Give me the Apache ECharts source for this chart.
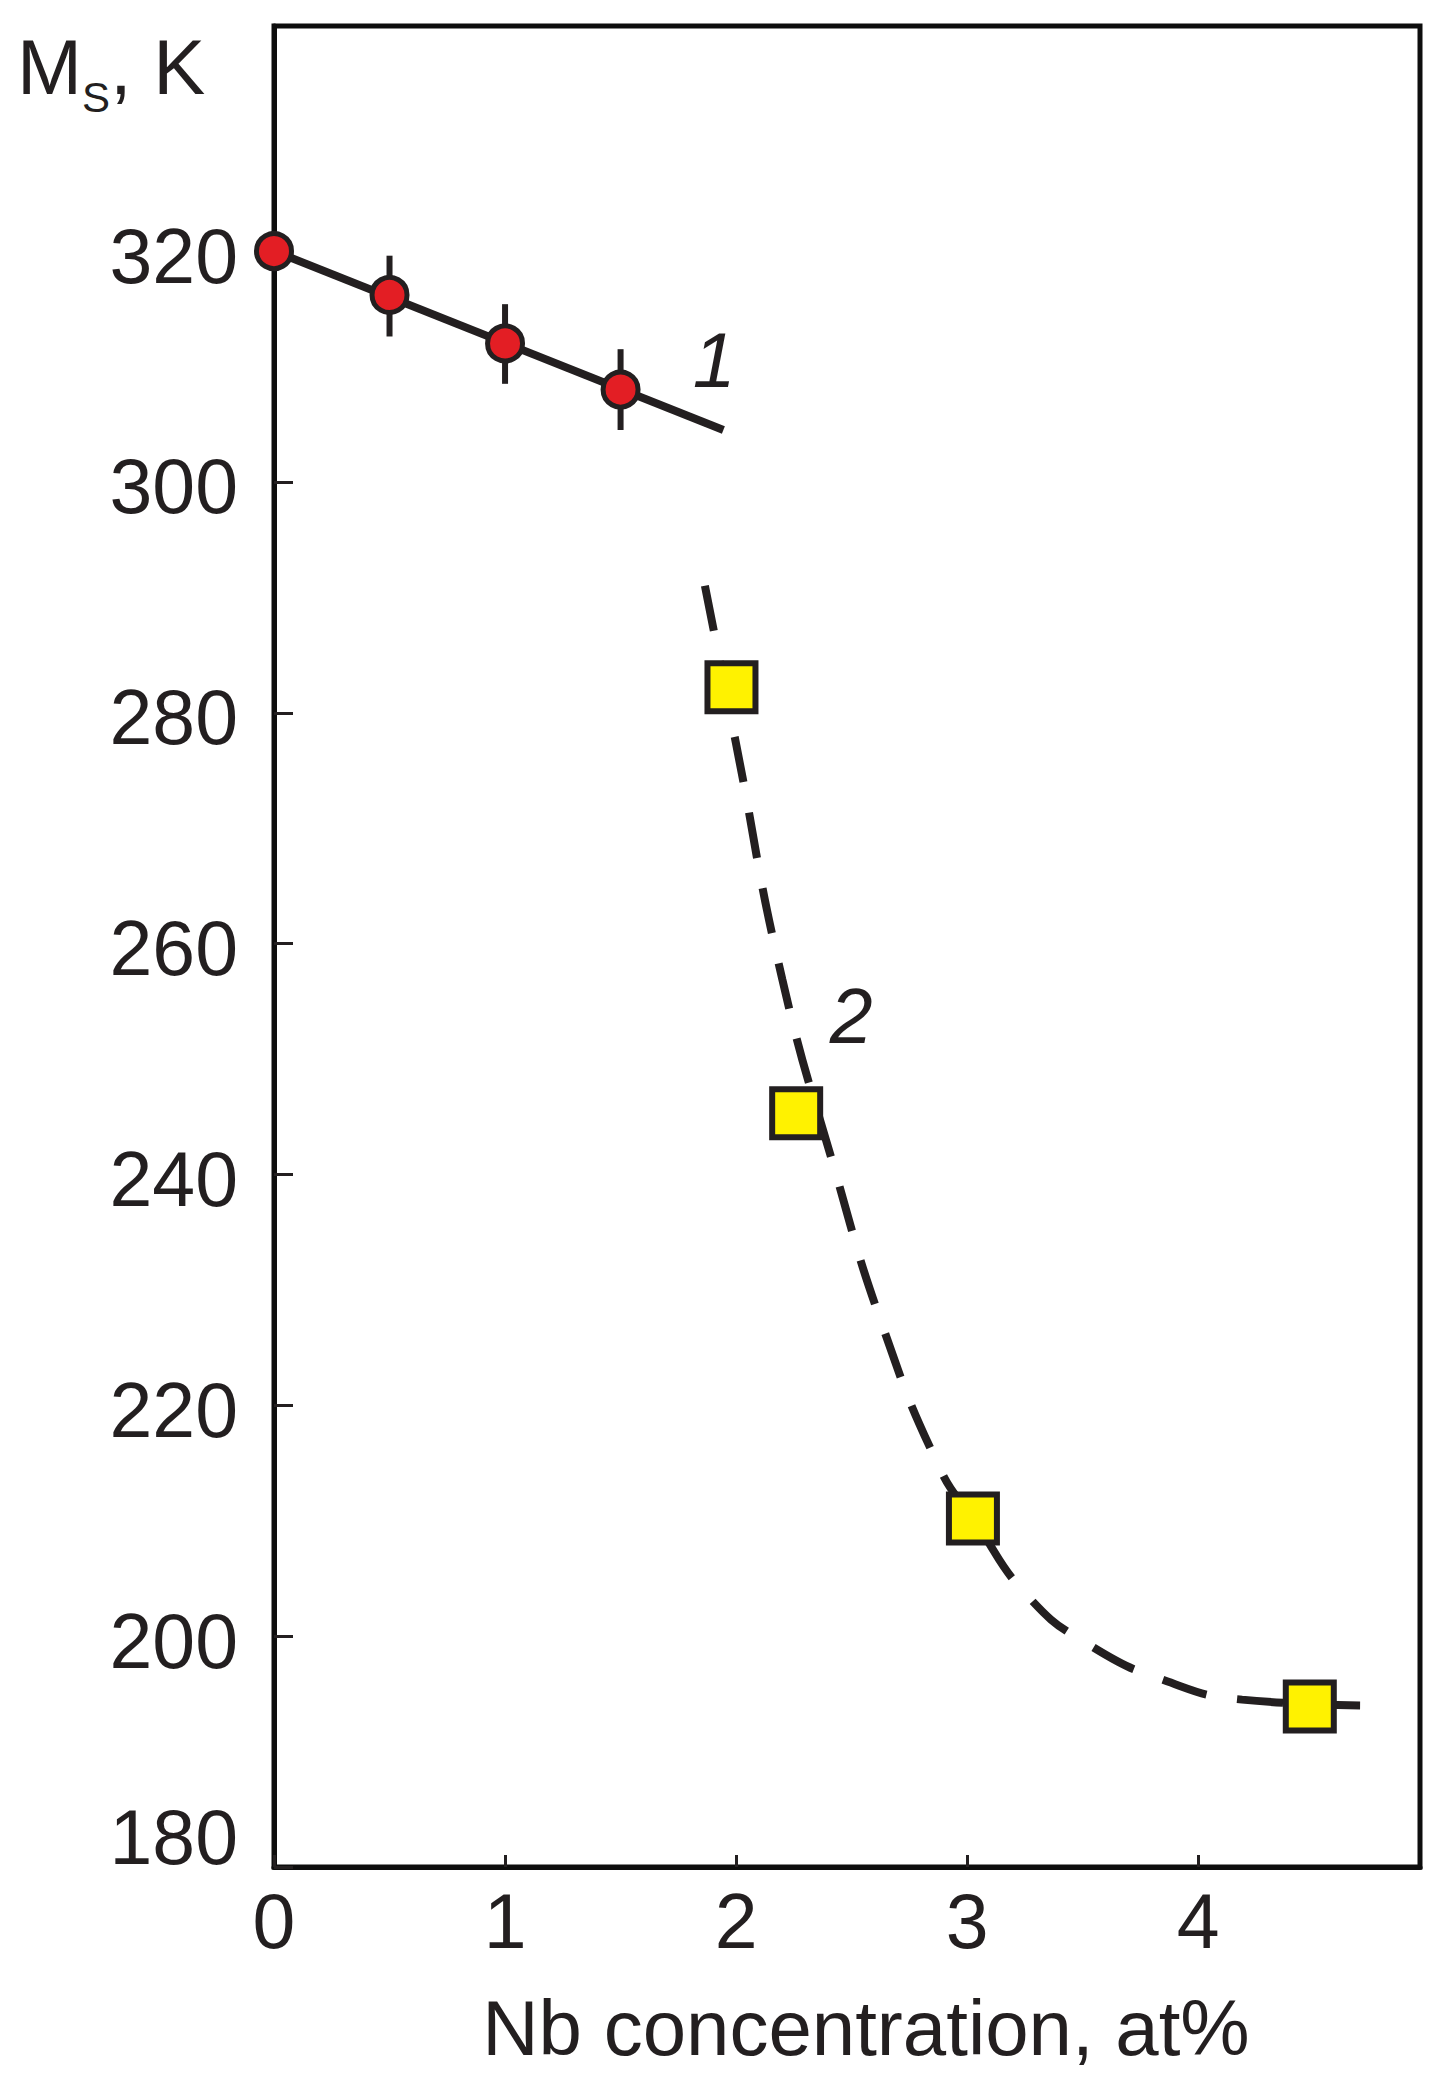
<!DOCTYPE html>
<html><head><meta charset="utf-8">
<script src="https://cdn.jsdelivr.net/npm/echarts@6/dist/echarts.min.js"></script>
<style>html,body{margin:0;padding:0;background:#fff}#c{width:1446px;height:2097px}</style>
</head><body><div id="c"></div>
<script>
// ---- data ----
const xTickLabels = [0, 1, 2, 3, 4];
const yTickLabels = [180, 200, 220, 240, 260, 280, 300, 320];

// series 1 (red circles) with error bars
const s1X = [0, 0.5, 1.0, 1.5];
const s1Y = [320, 316.2, 312.0, 308.0];
const errX = [0.5, 1.0, 1.5];
const errLow = [312.6, 308.5, 304.5];
const errHigh = [319.6, 315.4, 311.5];
// solid line 1
const line1X = [0, 1.945];
const line1Y = [320, 304.5];

// series 2 (yellow squares)
const s2X = [1.98, 2.26, 3.025, 4.483];
const s2Y = [282.2, 245.3, 210.2, 193.9];
// dashed curve 2
const curveX = [1.865, 2.0, 2.2, 2.43, 2.63, 2.88, 3.025, 3.27, 3.54, 3.85, 4.19, 4.72];
const curveY = [291.0, 277.3, 256.9, 240.2, 227.1, 214.6, 210.2, 203.3, 199.1, 196.2, 194.5, 194.0];

// curve labels
const curveLabelText = ['1', '2'];
const curveLabelX = [1.905, 2.498];
const curveLabelY = [310.6, 253.7];

const FONT = '"Liberation Sans", Arial, Helvetica, sans-serif';
const INK = '#231f20';
const FRAME = '#0d0d0d';

const zip = (a, b) => a.map((v, i) => [v, b[i]]);

const chart = echarts.init(document.getElementById('c'), null, {renderer: 'svg'});
chart.setOption({
  animation: false,
  backgroundColor: '#ffffff',
  title: {
    text: '{m|M}{s|S}{m|, K}',
    left: 17, top: 28, padding: 0,
    textStyle: {
      fontWeight: 'normal',
      rich: {
        m: {fontSize: 78, fontFamily: FONT, fontWeight: 'normal', color: INK, lineHeight: 77, verticalAlign: 'top'},
        s: {fontSize: 42, fontFamily: FONT, fontWeight: 'normal', color: INK, lineHeight: 42, verticalAlign: 'top', padding: [48, 0, 0, 0]}
      }
    }
  },
  grid: {left: 274, right: 26, top: 26, bottom: 230, show: true, borderColor: FRAME, borderWidth: 5, backgroundColor: 'transparent'},
  xAxis: {
    type: 'value', min: 0, max: 4.96, interval: 1,
    axisLine: {show: true, onZero: false, lineStyle: {color: FRAME, width: 5}},
    axisTick: {show: true, inside: true, length: 12, lineStyle: {color: INK, width: 3}},
    splitLine: {show: false},
    axisLabel: {
      margin: 15, fontSize: 77, fontFamily: FONT, color: INK,
      showMinLabel: true, showMaxLabel: false,
      formatter: v => xTickLabels.includes(v) ? String(v) : ''
    },
    name: 'Nb concentration, at%',
    nameLocation: 'middle', nameGap: 122,
    nameTextStyle: {fontSize: 78, fontFamily: FONT, color: INK, padding: [0, 0, 0, 38]}
  },
  yAxis: {
    type: 'value', min: 180, max: 339.5, interval: 20,
    axisLine: {show: true, onZero: false, lineStyle: {color: FRAME, width: 5}},
    axisTick: {show: true, inside: true, length: 19, lineStyle: {color: INK, width: 3}},
    splitLine: {show: false},
    axisLabel: {
      margin: 36, fontSize: 77, fontFamily: FONT, color: INK,
      showMinLabel: true, showMaxLabel: false,
      formatter: v => {
        if (!yTickLabels.includes(v)) return '';
        return v === yTickLabels[0] ? '{lo|' + v + '}' : '{n|' + v + '}';
      },
      rich: {
        n: {fontSize: 77, fontFamily: FONT, color: INK, padding: [9, 0, 0, 0]},
        lo: {fontSize: 77, fontFamily: FONT, color: INK, padding: [0, 0, 61, 0]}
      }
    }
  },
  series: [
    {
      type: 'line', data: zip(line1X, line1Y), symbol: 'none', z: 2,
      lineStyle: {color: INK, width: 8, cap: 'butt'}
    },
    {
      type: 'custom', z: 2,
      data: errX.map((x, i) => [x, errLow[i], errHigh[i]]),
      encode: {x: 0, y: [1, 2]},
      renderItem: (params, api) => {
        const x = api.value(0);
        const p1 = api.coord([x, api.value(1)]);
        const p2 = api.coord([x, api.value(2)]);
        return {type: 'line', shape: {x1: p1[0], y1: p1[1], x2: p2[0], y2: p2[1]}, style: {stroke: INK, lineWidth: 6}};
      }
    },
    {
      type: 'scatter', data: zip(s1X, s1Y), symbol: 'circle', symbolSize: 35, z: 3,
      itemStyle: {color: '#e31e24', borderColor: INK, borderWidth: 5, opacity: 1}
    },
    {
      type: 'line', data: zip(curveX, curveY), symbol: 'none', smooth: 0.5, z: 2,
      lineStyle: {color: INK, width: 8, type: [46, 31], cap: 'butt'}
    },
    {
      type: 'scatter', data: zip(s2X, s2Y), symbol: 'rect', symbolSize: 48, z: 3,
      itemStyle: {color: '#fff200', borderColor: INK, borderWidth: 6, opacity: 1}
    },
    {
      type: 'scatter', data: zip(curveLabelX, curveLabelY), symbol: 'circle', symbolSize: 1, z: 4,
      itemStyle: {color: '#ffffff', opacity: 1},
      label: {
        show: true, position: 'inside', opacity: 1,
        formatter: p => curveLabelText[p.dataIndex],
        fontSize: 77, fontStyle: 'italic', fontFamily: FONT, color: INK,
        textBorderWidth: 0
      }
    }
  ]
});
</script>
</body></html>
